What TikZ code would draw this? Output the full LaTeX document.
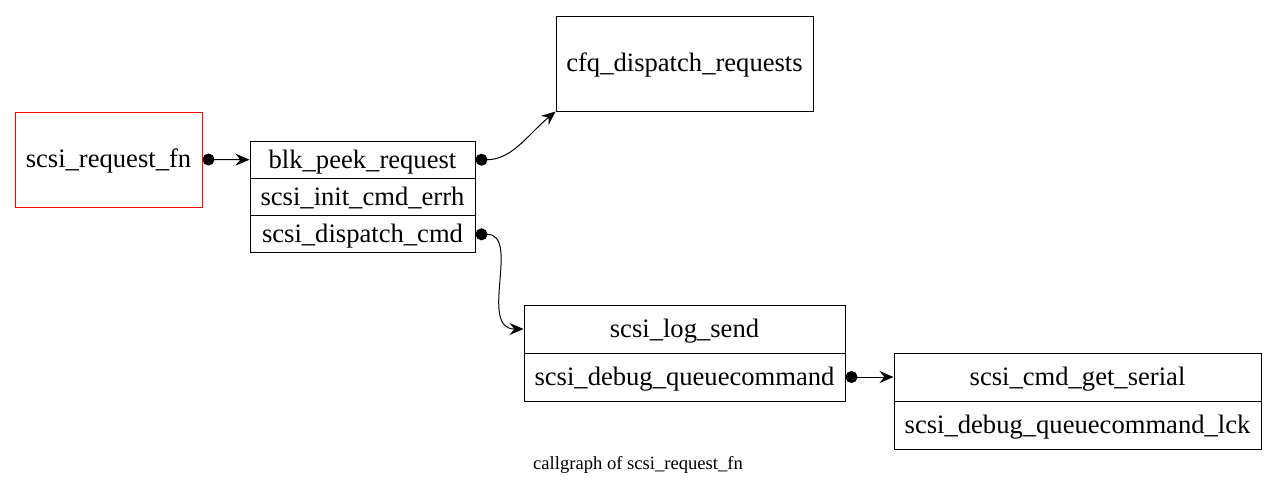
\documentclass[tikz,border=0pt]{standalone}
\usepackage{fontspec}
\setmainfont{Liberation Serif}
\usepackage{tikz}
\usetikzlibrary{arrows.meta, positioning}
\tikzset{
	func/.style={rectangle, draw, line width=0.5pt, inner sep=0pt,
		text height=10.5pt, text depth=2.2pt,
		font=\fontsize{13.3}{16}\selectfont},
	root/.style={func, draw=red, minimum width=93.5pt, minimum height=47.5pt},
	field/.style={func, minimum height=18.67pt},
	slot/.style={func, minimum height=24pt},
	call/.style={draw, line width=0.5pt,
		{Circle[length=6pt]}-{Stealth[length=7pt, width=6pt, inset=2.4pt]}}
}

\begin{document}
\begin{tikzpicture}[x=0.5pt,y=-0.5pt]
	\useasboundingbox (0,0) rectangle (1277,494);
	% Caller
	\node[root] (R) at (108.5,159.5) {scsi\_request\_fn};
	% Record of blk_peek_request
	\node[field, minimum width=112.5pt] (B-1) at (362.5,159.7) {blk\_peek\_request};
	\node[field, minimum width=112.5pt] (B-2) at (362.5,197) {scsi\_init\_cmd\_errh};
	\node[field, minimum width=112.5pt] (B-3) at (362.5,234.3) {scsi\_dispatch\_cmd};
	% Callees
	\node[func, minimum width=128.5pt, minimum height=47.5pt] (C) at (684.5,63.5) {cfq\_dispatch\_requests};
	\node[slot, minimum width=160.5pt] (L-1) at (684.5,329) {scsi\_log\_send};
	\node[slot, minimum width=160.5pt] (L-2) at (684.5,377) {scsi\_debug\_queuecommand};
	\node[slot, minimum width=183.5pt] (S-1) at (1077.5,377) {scsi\_cmd\_get\_serial};
	\node[slot, minimum width=183.5pt] (S-2) at (1077.5,425) {scsi\_debug\_queuecommand\_lck};
	% Caption
	\node[font=\fontsize{9.3}{11}\selectfont] (T) at (638,465) {callgraph of scsi\_request\_fn};
	% Connections
	\draw[call] (R.east) -- (B-1.west);
	\draw[call] (B-1.east) to[out=0, in=-140] (C.south west);
	\draw[call] (B-3.east) to[out=0, in=180, looseness=1.1] (L-1.west);
	\draw[call] (L-2.east) -- (S-1.west);
\end{tikzpicture}
\end{document}
